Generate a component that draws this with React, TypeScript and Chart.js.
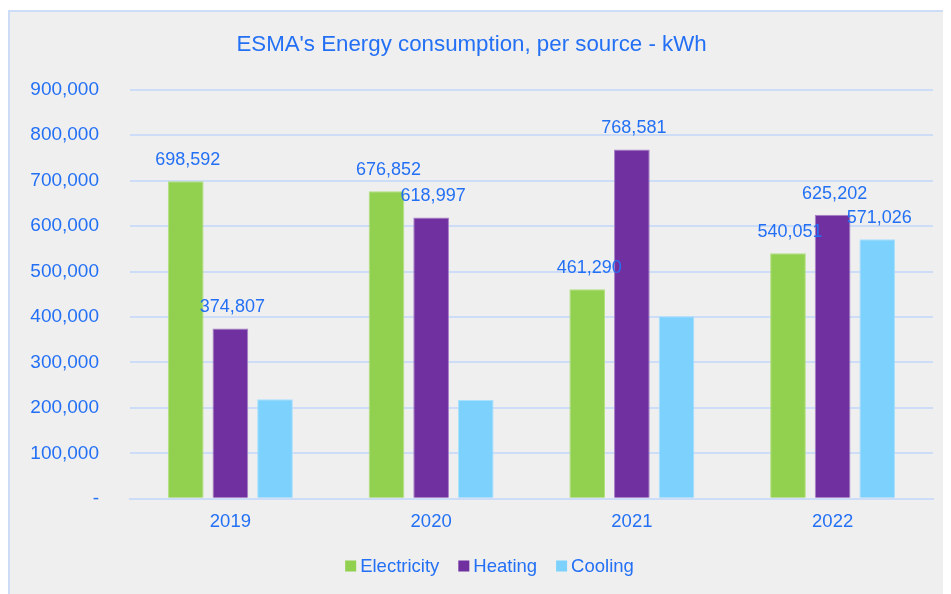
import React, { useEffect, useRef } from "react";
import { Chart, registerables } from "chart.js";

Chart.register(...registerables);

const title = "ESMA's Energy consumption, per source - kWh";
const years = ["2019", "2020", "2021", "2022"];
const seriesNames = ["Electricity", "Heating", "Cooling"];
const electricity = [698592, 676852, 461290, 540051];
const heating = [374807, 618997, 768581, 625202];
const cooling = [219200, 217600, 401500, 571026];
const electricityLabelShown = [true, true, true, true];
const heatingLabelShown = [true, true, true, true];
const coolingLabelShown = [false, false, false, true];
const yMax = 900000;
const yStep = 100000;

const TEXT = "#2370f5";
const FONT = "'Liberation Sans', Arial, sans-serif";

const dataLabelPlugin = {
  id: "dataLabels",
  afterDatasetsDraw(chart: any) {
    const ctx = chart.ctx;
    ctx.save();
    ctx.font = `18px ${FONT}`;
    ctx.fillStyle = TEXT;
    ctx.textAlign = "center";
    ctx.textBaseline = "middle";
    chart.data.datasets.forEach((ds: any, di: number) => {
      const meta = chart.getDatasetMeta(di);
      meta.data.forEach((el: any, i: number) => {
        if (!ds.showLabels[i]) return;
        const v = ds.data[i] as number;
        ctx.fillText(v.toLocaleString("en-US"), el.x + 2, el.y - 21);
      });
    });
    ctx.restore();
  },
};

const legendPlugin = {
  id: "customLegend",
  afterDraw(chart: any) {
    const ctx = chart.ctx;
    ctx.save();
    ctx.font = `18.5px ${FONT}`;
    ctx.textBaseline = "middle";
    ctx.textAlign = "left";
    const box = 11;
    const gap = 4;
    const spacing = 19;
    const items = chart.data.datasets.map((ds: any) => ({
      text: ds.label,
      color: ds.backgroundColor,
      w: box + gap + ctx.measureText(ds.label).width,
    }));
    const total = items.reduce((s: number, it: any) => s + it.w, 0) + spacing * (items.length - 1);
    let x = chart.width / 2 + 9 - total / 2;
    const y = chart.height - 28;
    items.forEach((it: any) => {
      ctx.fillStyle = it.color;
      ctx.fillRect(x, y - box / 2, box, box);
      ctx.fillStyle = TEXT;
      ctx.fillText(it.text, x + box + gap, y + 1);
      x += it.w + spacing;
    });
    ctx.restore();
  },
};

export default function App() {
  const ref = useRef<HTMLCanvasElement>(null);
  useEffect(() => {
    if (!ref.current) return;
    const chart = new Chart(ref.current, {
      type: "bar",
      data: {
        labels: years,
        datasets: [
          {
            label: seriesNames[0],
            data: electricity,
            backgroundColor: "#92d050",
            borderColor: "#b2e07e",
            borderWidth: 1,
            showLabels: electricityLabelShown,
          } as any,
          {
            label: seriesNames[1],
            data: heating,
            backgroundColor: "#7030a0",
            borderColor: "#a880c8",
            borderWidth: 1,
            showLabels: heatingLabelShown,
          } as any,
          {
            label: seriesNames[2],
            data: cooling,
            backgroundColor: "#7dd1fd",
            borderColor: "#a8e0fd",
            borderWidth: 1,
            showLabels: coolingLabelShown,
          } as any,
        ],
      },
      options: {
        animation: false,
        responsive: false,
        maintainAspectRatio: false,
        datasets: {
          bar: { categoryPercentage: 0.667, barPercentage: 0.8 },
        },
        layout: { padding: { left: 0, right: 18, top: 9, bottom: 49 } },
        plugins: {
          title: {
            display: true,
            text: title,
            color: TEXT,
            font: { family: FONT, size: 22.3, weight: "normal" },
            padding: { top: 10, bottom: 32 },
          },
          legend: { display: false },
          tooltip: { enabled: false },
        },
        scales: {
          x: {
            grid: { display: false, drawTicks: false },
            border: { display: true, color: "#cddcf7", width: 2 },
            ticks: {
              color: TEXT,
              font: { family: FONT, size: 18.5 },
              padding: 12,
            },
          },
          y: {
            min: 0,
            max: yMax,
            grid: { color: "#cddcf7", lineWidth: 2, drawTicks: false },
            border: { display: false },
            afterFit(scale: any) {
              scale.width = 120;
            },
            ticks: {
              stepSize: yStep,
              color: TEXT,
              font: { family: FONT, size: 19 },
              padding: 31,
              callback: (v: any) => (Number(v) === 0 ? "-" : Number(v).toLocaleString("en-US")),
            },
          },
        },
      },
      plugins: [dataLabelPlugin, legendPlugin],
    });
    return () => chart.destroy();
  }, []);
  return (
    <div
      style={{
        marginTop: 2,
        width: 960,
        height: 600,
        border: "2px solid #cddcf7",
        background: "#efefef",
        boxSizing: "border-box",
      }}
    >
      <canvas ref={ref} width={941} height={582} style={{ display: "block" }} />
    </div>
  );
}
